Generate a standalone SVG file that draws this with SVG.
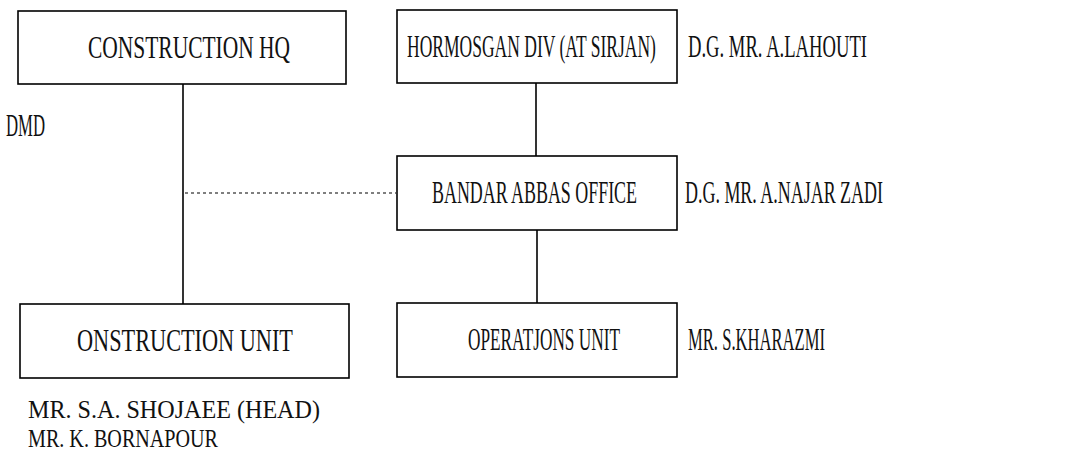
<svg xmlns="http://www.w3.org/2000/svg" width="1084" height="467" viewBox="0 0 1084 467">
<style>
.box{fill:#fff;stroke:#000;stroke-width:1.6}
.t{font-family:"Liberation Serif","Times New Roman",serif;font-size:31px;fill:#111}
.s{font-size:26px}
.c{stroke:#000;stroke-width:1.6;fill:none}
.d{stroke:#000;stroke-width:1.2;stroke-dasharray:3 3;fill:none}
</style>
<rect width="1084" height="467" fill="#fff"/>
<g id="connectors">
<line class="c" x1="183" y1="84" x2="183" y2="304"/>
<line class="c" x1="536" y1="83" x2="536" y2="156"/>
<line class="c" x1="537" y1="230" x2="537" y2="303"/>
<line class="d" x1="185" y1="193" x2="396" y2="193"/>
</g>
<g id="construction-hq">
<rect class="box" x="18" y="11" width="328" height="73"/>
<text class="t" transform="translate(88,58) scale(0.65,1)" textLength="310.8" lengthAdjust="spacingAndGlyphs">CONSTRUCTION HQ</text>
</g>
<g id="dmd">
<text class="t" transform="translate(6,136) scale(0.65,1)" textLength="60" lengthAdjust="spacingAndGlyphs">DMD</text>
</g>
<g id="hormosgan-div">
<rect class="box" x="397" y="10" width="280" height="73"/>
<text class="t" transform="translate(407,57) scale(0.65,1)" textLength="383" lengthAdjust="spacingAndGlyphs">HORMOSGAN DIV (AT SIRJAN)</text>
<text class="t" transform="translate(688,57) scale(0.65,1)" textLength="275.4" lengthAdjust="spacingAndGlyphs">D.G. MR. A.LAHOUTI</text>
</g>
<g id="bandar-abbas-office">
<rect class="box" x="397" y="156" width="280" height="74"/>
<text class="t" transform="translate(432,203) scale(0.65,1)" textLength="315.4" lengthAdjust="spacingAndGlyphs">BANDAR ABBAS OFFICE</text>
<text class="t" transform="translate(685,203) scale(0.65,1)" textLength="304.6" lengthAdjust="spacingAndGlyphs">D.G. MR. A.NAJAR ZADI</text>
</g>
<g id="construction-unit">
<rect class="box" x="20" y="304" width="329" height="74"/>
<text class="t" transform="translate(77,351) scale(0.65,1)" textLength="332.3" lengthAdjust="spacingAndGlyphs">ONSTRUCTION UNIT</text>
<text class="t s" transform="translate(28,418) scale(0.65,1)" textLength="449.2" lengthAdjust="spacingAndGlyphs">MR. S.A. SHOJAEE (HEAD)</text>
<text class="t s" transform="translate(28,447) scale(0.65,1)" textLength="292.3" lengthAdjust="spacingAndGlyphs">MR. K. BORNAPOUR</text>
</g>
<g id="operations-unit">
<rect class="box" x="397" y="303" width="280" height="74"/>
<text class="t" transform="translate(468,350) scale(0.65,1)" textLength="233.8" lengthAdjust="spacingAndGlyphs">OPERATJONS UNIT</text>
<text class="t" transform="translate(688,350) scale(0.65,1)" textLength="210.8" lengthAdjust="spacingAndGlyphs">MR. S.KHARAZMI</text>
</g>
</svg>
